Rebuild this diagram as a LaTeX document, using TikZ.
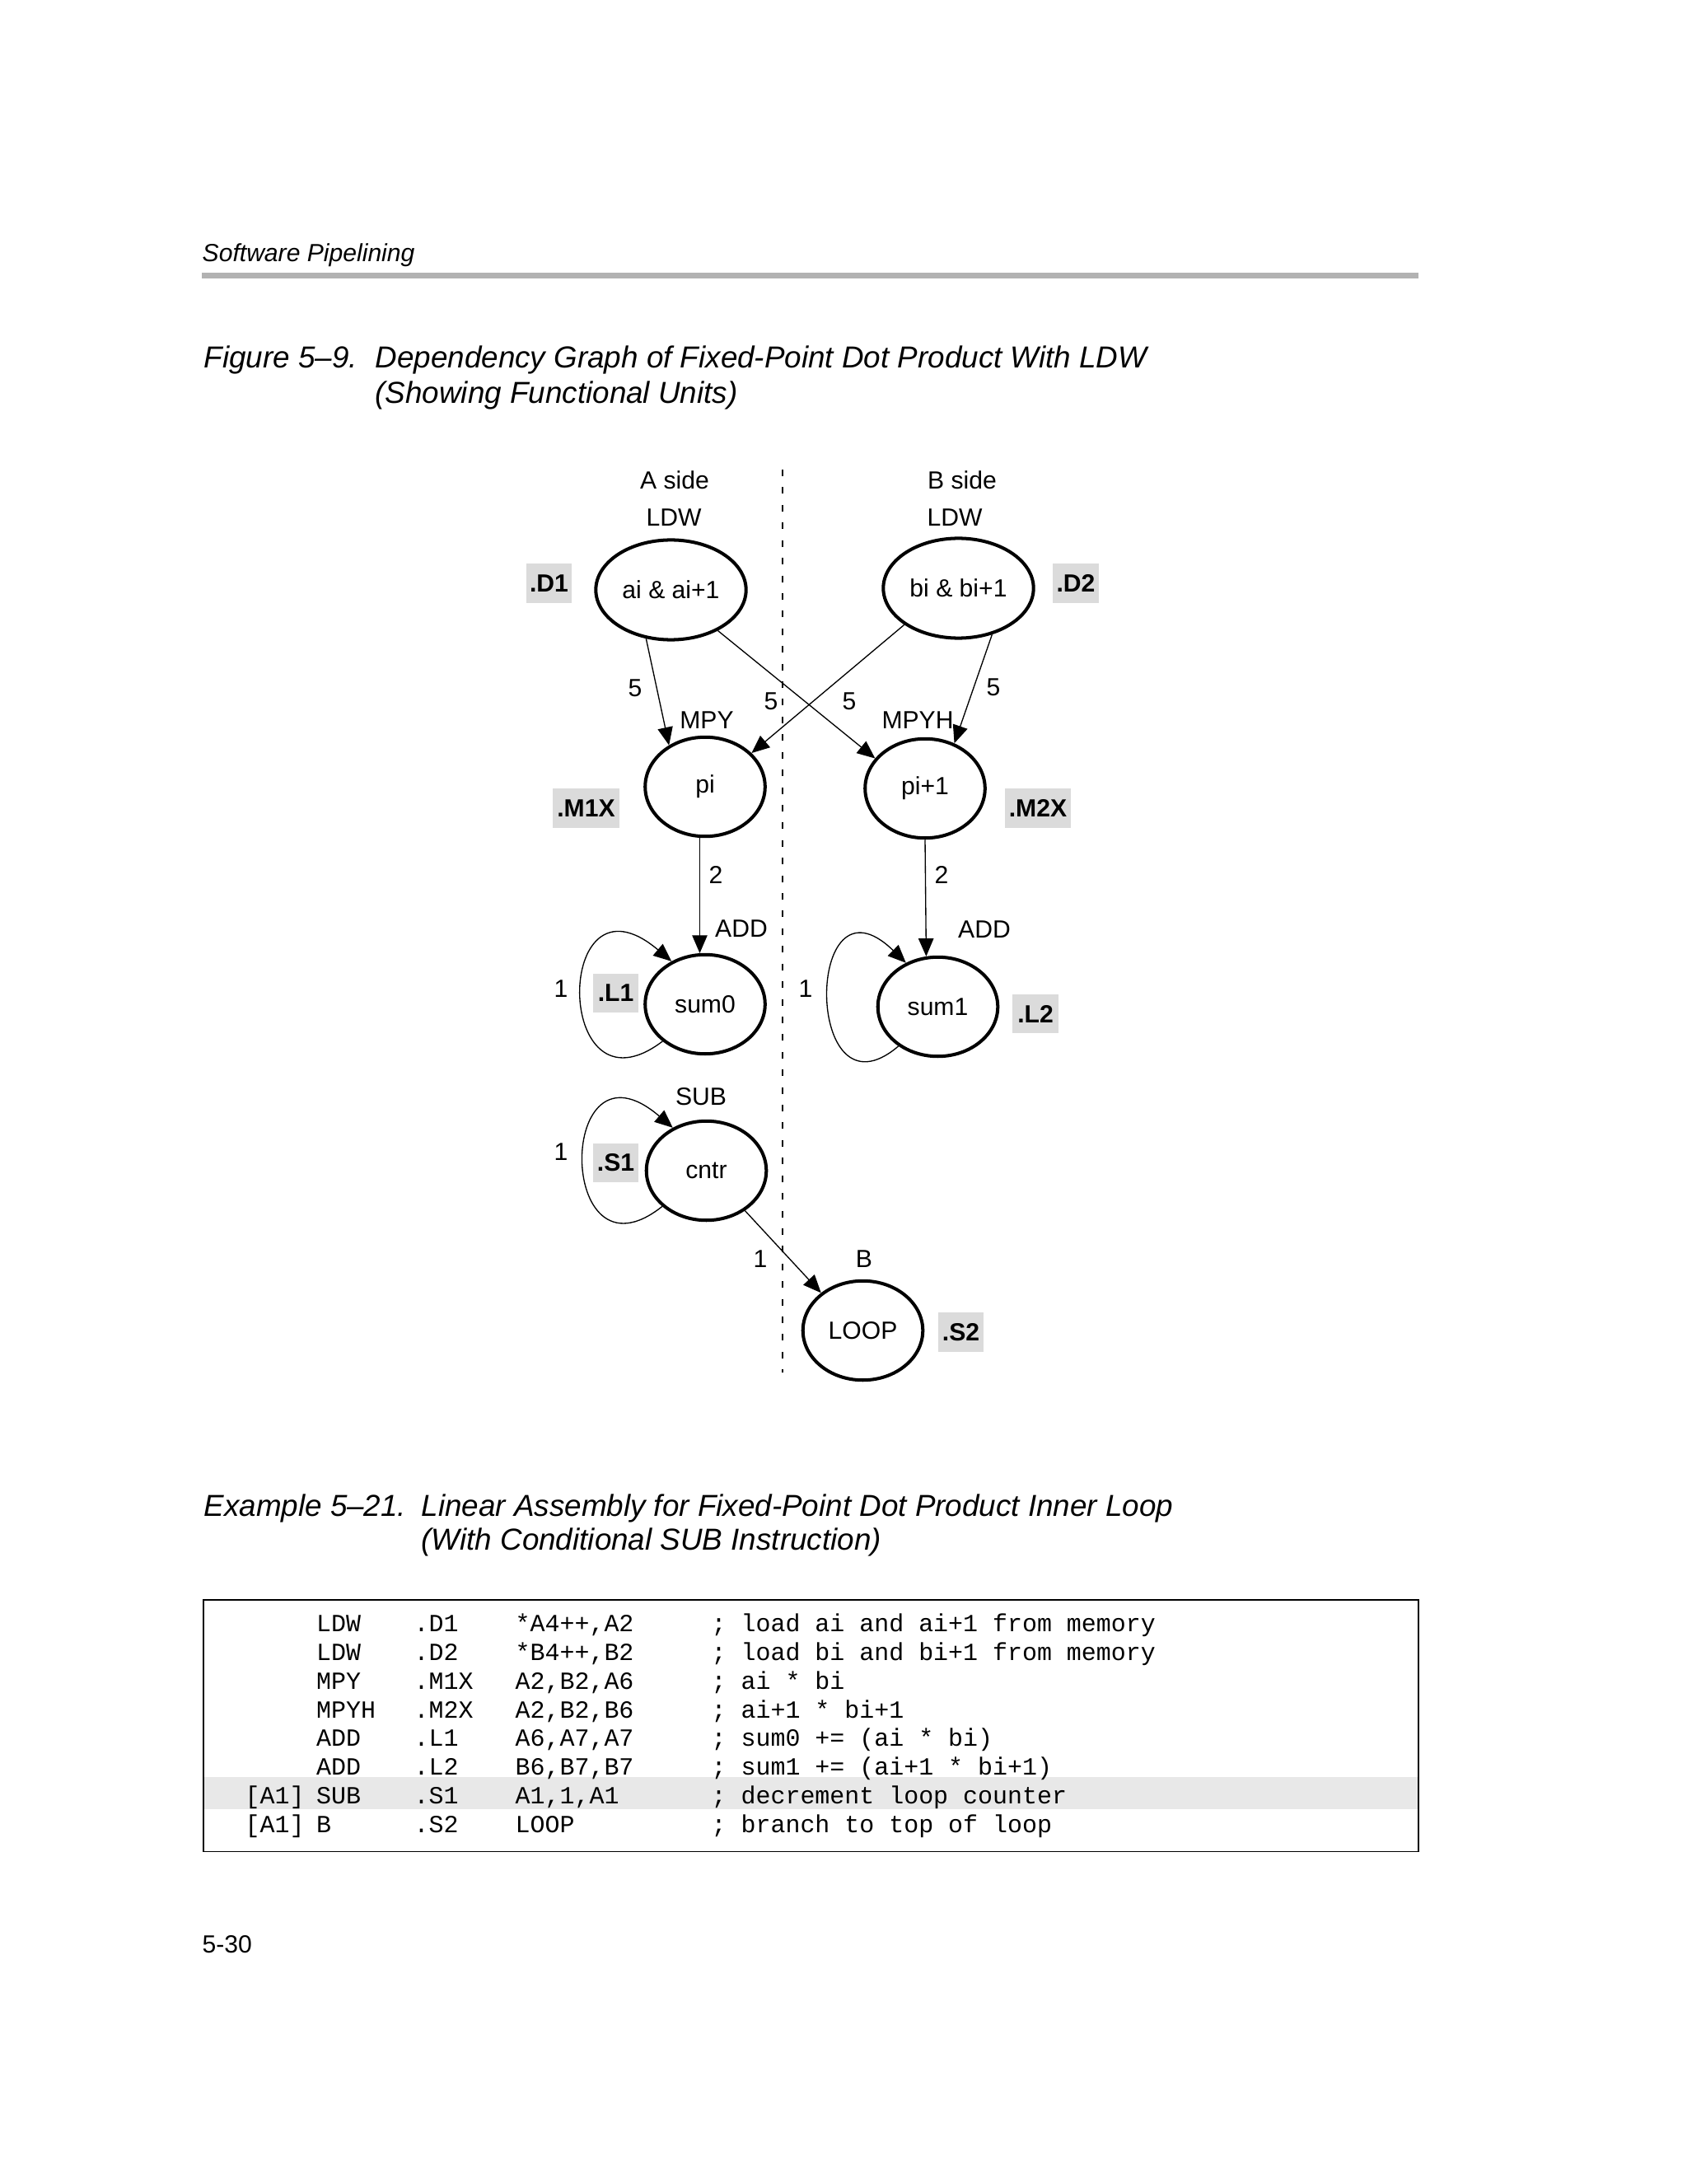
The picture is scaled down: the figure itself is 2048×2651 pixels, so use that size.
\documentclass[tikz,border=0pt]{standalone}
\usepackage{fontspec}
\setmainfont{Liberation Sans}
\setmonofont{Liberation Mono}
\usetikzlibrary{arrows.meta}
\usetikzlibrary{shapes.geometric}
\usetikzlibrary{calc}

\newcommand{\lblfont}{\fontsize{9}{11}\selectfont}
\newcommand{\capfont}{\fontsize{11}{13}\selectfont\itshape}
\newcommand{\codefont}{\fontsize{8.95}{10}\selectfont\ttfamily}

\tikzset{
  opnode/.style={draw,ellipse,line width=1.2pt,inner sep=0pt,
    minimum width=43.5pt,minimum height=36pt,font=\lblfont},
  ldnode/.style={opnode,minimum width=54.5pt,minimum height=36.2pt},
  unitbox/.style={fill=black!14,inner sep=0pt,minimum width=16.5pt,
    minimum height=14.2pt,font=\lblfont\bfseries},
  lbl/.style={inner sep=0pt,font=\lblfont},
  dep/.style={line width=0.4pt,-{Triangle[length=6.5pt,width=5.5pt]}},
  capt/.style={anchor=base west,inner sep=0pt,font=\capfont},
  code/.style={anchor=base west,inner sep=0pt,font=\codefont}
}

\begin{document}
\begin{tikzpicture}[x=0.29883pt,y=-0.29883pt]
\fill[white] (0,0) rectangle (2048,2651);
\useasboundingbox (0,0) rectangle (2048,2651);

% page head
\node[anchor=base west,inner sep=0pt,font=\lblfont\itshape] (head) at (245,318) {Software Pipelining};
\fill[black!30] (245,331) rectangle (1722,338);

\node[capt] (fignum) at (247,446.7) {Figure 5–9.};
\node[capt] (figtitle) at (455,446.7) {Dependency Graph of Fixed-Point Dot Product With LDW};
\node[capt] (figtitleb) at (455,489.5) {(Showing Functional Units)};

% the two sides
\coordinate (divtop) at (950,570);
\coordinate (divbot) at (950,1666);
\draw[line width=0.4pt,dash pattern=on 2.4pt off 4pt] (divtop) -- (divbot);

\node[lbl] (sideA) at (819,583) {A side};
\node[lbl] (sideB) at (1168,583) {B side};

% instructions
\node[ldnode] (ai) at (814.5,716) {ai \& ai+1};
\node[ldnode] (bi) at (1163.5,714) {bi \& bi+1};
\node[opnode] (pi) at (856,955) {pi};
\node[opnode] (pj) at (1123,957) {pi+1};
\node[opnode] (sumA) at (856,1219) {sum0};
\node[opnode] (sumB) at (1138.5,1222) {sum1};
\node[opnode] (cntr) at (857.5,1421) {cntr};
\node[opnode] (loop) at (1047.5,1615) {LOOP};

\node[lbl] (ldwA) at (818,628) {LDW};
\node[lbl] (ldwB) at (1159,628) {LDW};
\node[lbl] (mpy) at (858,874) {MPY};
\node[lbl] (mpyh) at (1114,874) {MPYH};
\node[lbl] (addA) at (900,1127) {ADD};
\node[lbl] (addB) at (1195,1128) {ADD};
\node[lbl] (sub) at (851,1331) {SUB};
\node[lbl] (br) at (1049,1528) {B};

% functional units
\node[unitbox] (uD1) at (666.5,708) {.D1};
\node[unitbox] (uD2) at (1306,708) {.D2};
\node[unitbox,minimum width=24pt] (uM1) at (711.5,981) {.M1X};
\node[unitbox,minimum width=24pt] (uM2) at (1260,981) {.M2X};
\node[unitbox] (uL1) at (747.5,1205.5) {.L1};
\node[unitbox] (uL2) at (1257,1230.5) {.L2};
\node[unitbox] (uS1) at (747.5,1411.5) {.S1};
\node[unitbox] (uS2) at (1166.5,1617) {.S2};

% dependencies
\draw[dep] (ai.243) -- (pi.131);
\draw[dep] (ai.319) -- (pj.149);
\draw[dep] (bi.214) -- (pi.36);
\draw[dep] (bi.306) -- (pj.57);
\draw[dep] (pi.264) -- (sumA.96);
\draw[dep] (pj.south) -- (sumB.103);
\draw[dep] (cntr.314) -- (loop.138);

\draw[dep] (sumA.221) .. controls ($(sumA)+(-185,146)$) and ($(sumA)+(-185,-174)$) .. (sumA.128);
\draw[dep] (sumB.225) .. controls ($(sumB)+(-163,146)$) and ($(sumB)+(-163,-174)$) .. (sumB.126);
\draw[dep] (cntr.219) .. controls ($(cntr)+(-183,146)$) and ($(cntr)+(-183,-174)$) .. (cntr.128);

% latencies
\node[lbl] (l1) at (771,835) {5};
\node[lbl] (l2) at (936,851) {5};
\node[lbl] (l3) at (1031,851) {5};
\node[lbl] (l4) at (1206,834) {5};
\node[lbl] (l5) at (869,1062) {2};
\node[lbl] (l6) at (1143,1062) {2};
\node[lbl] (l7) at (681,1200) {1};
\node[lbl] (l8) at (978,1200) {1};
\node[lbl] (l9) at (681,1398) {1};
\node[lbl] (l10) at (923,1528) {1};

% example
\node[capt] (exnum) at (247,1840.7) {Example 5–21.};
\node[capt] (extitle) at (511,1840.7) {Linear Assembly for Fixed-Point Dot Product Inner Loop};
\node[capt] (extitleb) at (511,1881.7) {(With Conditional SUB Instruction)};

\fill[black!9] (247,2157) rectangle (1722,2196);
\draw[line width=0.5pt] (247,1942) rectangle (1722,2247.5);

\foreach \cnd/\opc/\fu/\opd/\cmt [count=\r from 0] in {
  {}/LDW/.D1/{*A4++,A2}/{; load ai and ai+1 from memory},
  {}/LDW/.D2/{*B4++,B2}/{; load bi and bi+1 from memory},
  {}/MPY/.M1X/{A2,B2,A6}/{; ai * bi},
  {}/MPYH/.M2X/{A2,B2,B6}/{; ai+1 * bi+1},
  {}/ADD/.L1/{A6,A7,A7}/{; sum0 += (ai * bi)},
  {}/ADD/.L2/{B6,B7,B7}/{; sum1 += (ai+1 * bi+1)},
  {[A1]}/SUB/.S1/{A1,1,A1}/{; decrement loop counter},
  {[A1]}/B/.S2/LOOP/{; branch to top of loop}}{
  \node[code] (cnd\r) at (297,{1980.7+34.76*\r}) {\cnd};
  \node[code] (opc\r) at (383.5,{1980.7+34.76*\r}) {\opc};
  \node[code] (fu\r) at (502,{1980.7+34.76*\r}) {\fu};
  \node[code] (opd\r) at (625,{1980.7+34.76*\r}) {\opd};
  \node[code] (cmt\r) at (863,{1980.7+34.76*\r}) {\cmt};
}

\node[anchor=base west,inner sep=0pt,font=\lblfont] (page) at (245,2370.7) {5-30};
\end{tikzpicture}
\end{document}
